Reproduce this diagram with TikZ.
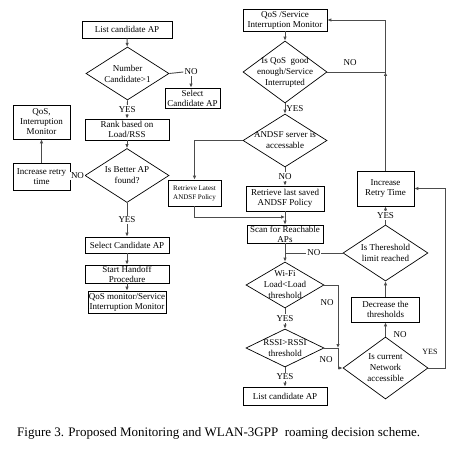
\documentclass[tikz,border=0pt]{standalone}
\usepackage{fontspec}
\setmainfont{Liberation Serif}
\usetikzlibrary{shapes.geometric,arrows.meta,calc}
\begin{document}
\begin{tikzpicture}[x=1pt,y=-1pt,
  box/.style={draw=black, line width=0.7pt, inner sep=0.5pt, align=center, font=\fontsize{9}{10}\selectfont},
  dia/.style={draw=black, line width=0.7pt, diamond, inner sep=0pt},
  txt/.style={align=center, font=\fontsize{9}{11}\selectfont, inner sep=0pt},
  lbl/.style={font=\fontsize{9}{10}\selectfont, inner sep=1pt, fill=white},
  flbl/.style={font=\fontsize{9}{10}\selectfont, inner sep=1pt},
  con/.style={draw=black!70, line width=0.9pt},
  arr/.style={con, -{Latex[length=4pt,width=3.5pt]}}]
\useasboundingbox (0,0) rectangle (458,449);
\fill[white] (0,0) rectangle (458,449);

% ---------- left column ----------
\node[box, minimum width=90pt, minimum height=17pt] (la) at (127,29.5) {List candidate AP};
\node[dia, minimum width=83pt, minimum height=53pt] (d1) at (127.5,73.5) {};
\node[txt] (d1t) at (d1.center) {Number\\Candidate>1};
\node[box, minimum width=55pt, minimum height=20pt] (sca) at (192.5,98) {Select\\Candidate AP};
\node[flbl] (no1) at (191,72) {NO};
\node[box, minimum width=84pt, minimum height=21pt] (rank) at (127,129.5) {Rank based on\\Load/RSS};
\node[dia, minimum width=84pt, minimum height=54pt] (d2) at (127,175.5) {};
\node[txt] (d2t) at (d2.center) {Is Better AP\\found?};
\node[box, minimum width=57pt, minimum height=27pt] (irt) at (41.5,176.5) {Increase retry\\time};
\node[box, minimum width=57pt, minimum height=34pt] (qim) at (41.5,122) {QoS,\\Interruption\\Monitor};
\node[box, minimum width=84pt, minimum height=16pt] (sel) at (127,245) {Select Candidate AP};
\node[box, minimum width=84pt, minimum height=18pt] (sho) at (127,274) {Start Handoff\\Procedure};
\node[box, minimum width=78pt, minimum height=22pt] (qsm) at (127,302) {QoS monitor/Service\\Interruption Monitor};

\draw[arr] (la) -- (d1);
\draw[con] (d1.east) -- (no1.west);
\draw[arr] (no1.south) -- (no1.south |- sca.north);
\draw[arr] (d1.south) -- node[lbl] (yes1) {YES} (rank.north);
\draw[arr] (rank) -- (d2);
\draw[arr] (d2.west) -- node[lbl] (no2) {NO} (irt.east);
\draw[arr] (irt) -- (qim);
\draw[arr] (d2.south) -- node[lbl] (yes2) {YES} (sel.north);
\draw[arr] (sel) -- (sho);
\draw[arr] (sho) -- (qsm);

% ---------- middle column ----------
\node[box, minimum width=84pt, minimum height=22pt] (qsi) at (285,20) {QoS /Service\\Interruption Monitor};
\node[dia, minimum width=84pt, minimum height=62pt] (d3) at (285,72) {};
\node[txt] (d3t) at (d3.center) {Is QoS\ \ good\\enough/Service\\Interrupted};
\node[dia, minimum width=84pt, minimum height=53pt] (d4) at (285,140.5) {};
\node[txt] (d4t) at (d4.center) {ANDSF server is\\accessable};
\node[box, minimum width=53pt, minimum height=26pt, font=\fontsize{7}{9}\selectfont] (rl) at (194.5,193) {Retrieve Latest\\ANDSF Policy};
\node[box, minimum width=78pt, minimum height=25pt] (rls) at (285,198.5) {Retrieve last saved\\ANDSF Policy};
\node[box, minimum width=76pt, minimum height=18pt] (scan) at (285,234) {Scan for Reachable\\APs};
\node[dia, minimum width=78pt, minimum height=46pt] (d5) at (285,285) {};
\node[txt] (d5t) at (d5.center) {Wi-Fi\\Load<Load\\threshold};
\node[dia, minimum width=78pt, minimum height=38pt] (d6) at (285,348) {};
\node[txt] (d6t) at (d6.center) {RSSI>RSSI\\threshold};
\node[box, minimum width=84pt, minimum height=18pt] (lc) at (285,396) {List candidate AP};

% ---------- right column ----------
\node[box, minimum width=57pt, minimum height=35pt] (irt2) at (385.5,188.5) {Increase\\Retry Time};
\node[dia, minimum width=85pt, minimum height=56pt] (d8) at (385.5,253) {};
\node[txt] (d8t) at (d8.center) {Is Thereshold\\limit reached};
\node[box, minimum width=68pt, minimum height=25pt] (dec) at (385.5,309.5) {Decrease the\\thresholds};
\node[dia, minimum width=85pt, minimum height=62pt] (d7) at (385.5,368) {};
\node[txt] (d7t) at (d7.center) {Is current\\Network\\accessible};

\coordinate (c7) at (285,217);
\coordinate (c2) at (285,253);
\coordinate (c1) at (338,348);
\coordinate (c3) at (385.5,72);
\coordinate (c4) at (385.5,20);
\coordinate (c5) at (445,368);

\draw[arr] (qsi) -- (d3);
\draw[arr] (d3.south) -- node[flbl, right] (yes3) {YES} (d4.north);
\draw[arr] (d4.west) -| (rl.north);
\draw[arr] (d4.south) -- node[lbl] (no4) {NO} (rls.north);
\draw[arr] (rls) -- (scan);
\draw[arr] (rl.south) |- (c7);
\draw[arr] (scan) -- (d5);
\draw[arr] (d5.south) -- node[lbl] (yes5) {YES} (d6.north);
\draw[arr] (d6.south) -- node[lbl] (yes6) {YES} (lc.north);
\draw[arr] (d5.east) -| (c1);
\draw[arr] (d6.east) -- (c1) |- (d7.west);
\node[flbl] (no5) at (327,303) {NO};
\node[flbl] (no6) at (326,360) {NO};

\draw[con] (d3.east) -- (c3);
\node[flbl] (no3) at (350,63) {NO};
\draw[arr] (irt2.north) -- (c3);
\draw[arr] (c3) -- (c4) -- (qsi.east);
\draw[arr] (d8.north) -- node[lbl] (yes8) {YES} (irt2.south);
\draw[con] (d8.west) -- node[lbl] (no8) {NO} (c2);
\draw[arr] (dec) -- (d8);
\draw[arr] (d7.north) -- (dec.south);
\node[flbl] (no7) at (400,335) {NO};
\draw[arr] (d7.east) -- (c5) |- (irt2.east);
\node[flbl, font=\fontsize{8}{9}\selectfont] (yes7) at (430,352) {YES};

% ---------- caption ----------
\node[anchor=west, inner sep=0pt, font=\fontsize{13}{15}\selectfont] (cap) at (17,433) {Figure 3. Proposed Monitoring and WLAN-3GPP\ \ roaming decision scheme.};
\end{tikzpicture}
\end{document}
